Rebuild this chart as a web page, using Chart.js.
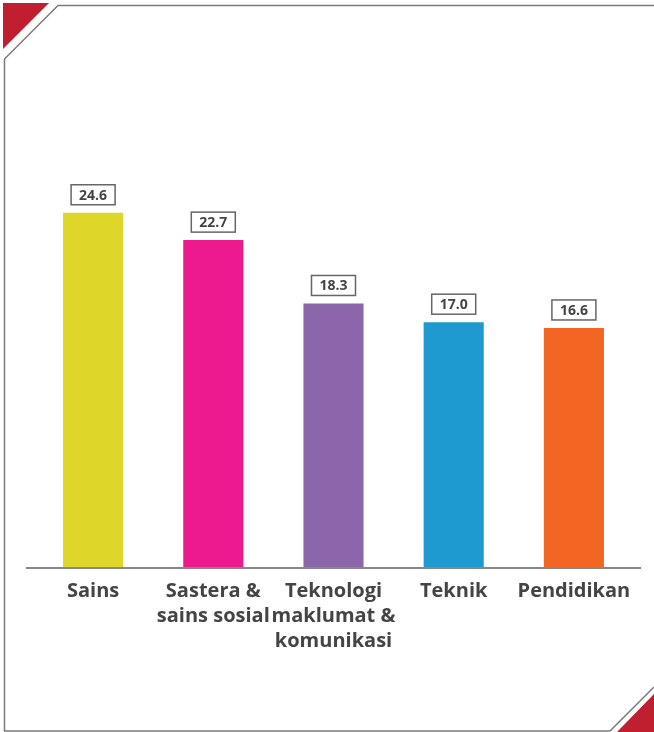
<!DOCTYPE html>
<html>
<head>
<meta charset="utf-8">
<script src="https://cdn.jsdelivr.net/npm/chart.js@4/dist/chart.umd.min.js"></script>
<style>
html,body{margin:0;padding:0;background:#fff;}
#wrap{position:relative;width:654px;height:732px;}
canvas{display:block;}
</style>
</head>
<body>
<div id="wrap"><canvas id="c" width="654" height="732"></canvas></div>
<script>
const categories = [["Sains"], ["Sastera &", "sains sosial"], ["Teknologi", "maklumat &", "komunikasi"], ["Teknik"], ["Pendidikan"]];
const values = [24.6, 22.7, 18.3, 17.0, 16.6];
const barColors = ["#DFD62A", "#EC1A8C", "#8C66AA", "#1E9AD0", "#F26522"];
const valueLabels = ["24.6", "22.7", "18.3", "17.0", "16.6"];

const frame = {
  id: 'frame',
  beforeDraw(chart) {
    const ctx = chart.ctx;
    ctx.save();
    ctx.fillStyle = '#fff';
    ctx.fillRect(0, 0, chart.width, chart.height);
    // red corners
    ctx.fillStyle = '#C01F2F';
    ctx.beginPath(); ctx.moveTo(3, 3); ctx.lineTo(49, 3); ctx.lineTo(3, 49); ctx.closePath(); ctx.fill();
    ctx.beginPath(); ctx.moveTo(654, 694); ctx.lineTo(654, 732); ctx.lineTo(617, 732); ctx.closePath(); ctx.fill();
    // gray frame
    ctx.strokeStyle = '#7a7a7a';
    ctx.lineWidth = 1.5;
    ctx.beginPath();
    ctx.moveTo(654, 5.5); ctx.lineTo(58, 5.5); ctx.lineTo(4.5, 59); ctx.lineTo(4.5, 731); ctx.lineTo(610, 731); ctx.lineTo(654, 687);
    ctx.stroke();
    ctx.restore();
  },
  afterDatasetsDraw(chart) {
    const ctx = chart.ctx;
    const area = chart.chartArea;
    ctx.save();
    // baseline axis
    ctx.strokeStyle = '#888';
    ctx.lineWidth = 2;
    ctx.beginPath();
    ctx.moveTo(area.left - 7, area.bottom + 1);
    ctx.lineTo(area.right + 7, area.bottom + 1);
    ctx.stroke();
    // value boxes
    const meta = chart.getDatasetMeta(0);
    ctx.font = 'bold 14px "Open Sans"';
    ctx.textAlign = 'center';
    ctx.textBaseline = 'middle';
    meta.data.forEach((bar, i) => {
      const w = 44, h = 20;
      const x = bar.x - w / 2;
      const y = bar.y - 8 - h;
      ctx.fillStyle = '#fff';
      ctx.fillRect(x, y, w, h);
      ctx.strokeStyle = '#666';
      ctx.lineWidth = 1.5;
      ctx.strokeRect(x, y, w, h);
      ctx.fillStyle = '#444';
      ctx.fillText(valueLabels[i], bar.x, y + h / 2 + 1);
    });
    ctx.restore();
  }
};

new Chart(document.getElementById('c'), {
  type: 'bar',
  data: {
    labels: categories,
    datasets: [{
      data: values,
      backgroundColor: barColors,
      borderWidth: 0,
      categoryPercentage: 1,
      barPercentage: 0.5
    }]
  },
  options: {
    responsive: false,
    animation: false,
    devicePixelRatio: 1,
    layout: { padding: { top: 135, left: 33, right: 20, bottom: 0 } },
    plugins: { legend: { display: false }, tooltip: { enabled: false } },
    scales: {
      y: { display: false, min: 0, max: 30 },
      x: {
        grid: { display: false, drawTicks: false },
        border: { display: false },
        ticks: {
          color: '#444',
          padding: 12,
          maxRotation: 0,
          autoSkip: false,
          font: { family: '"Open Sans"', size: 20, weight: 'bold', lineHeight: 1.25 }
        },
        afterFit(scale) { scale.height = 165; }
      }
    }
  },
  plugins: [frame]
});
</script>
</body>
</html>
